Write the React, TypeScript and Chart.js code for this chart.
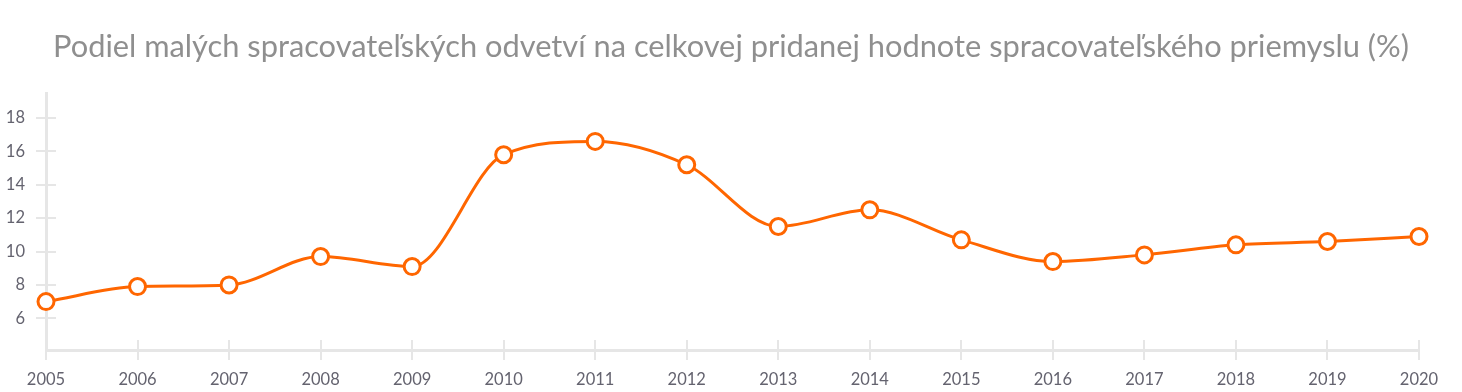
import React, { useEffect, useRef } from "react";
import { Chart, registerables } from "chart.js";

Chart.register(...registerables);

const TITLE = "Podiel malých spracovateľských odvetví na celkovej pridanej hodnote spracovateľského priemyslu (%)";
const YEARS = ["2005", "2006", "2007", "2008", "2009", "2010", "2011", "2012", "2013", "2014", "2015", "2016", "2017", "2018", "2019", "2020"];
const SHARE = [7.0, 7.9, 8.0, 9.7, 9.1, 15.8, 16.6, 15.2, 11.5, 12.5, 10.7, 9.4, 9.8, 10.4, 10.6, 10.9];
const Y_TICKS = [6, 8, 10, 12, 14, 16, 18];

const AXIS_COLOR = "#e6e6e6";
const LINE_COLOR = "#ff6600";
const TICK_TEXT = "#64636f";

const innerTicks = {
  id: "innerTicks",
  beforeDatasetsDraw(chart: any) {
    const ctx = chart.ctx;
    const x = chart.scales.x;
    const y = chart.scales.y;
    ctx.save();
    ctx.strokeStyle = AXIS_COLOR;
    ctx.lineWidth = 2;
    ctx.beginPath();
    for (let i = 0; i < YEARS.length; i++) {
      const px = Math.round(x.getPixelForValue(i));
      ctx.moveTo(px, y.bottom);
      ctx.lineTo(px, y.bottom - 10);
    }
    for (const v of Y_TICKS) {
      const py = Math.round(y.getPixelForValue(v));
      ctx.moveTo(x.left, py);
      ctx.lineTo(x.left + 10, py);
    }
    ctx.stroke();
    ctx.restore();
  },
};

const titlePlugin = {
  id: "centerTitle",
  afterDraw(chart: any) {
    const ctx = chart.ctx;
    ctx.save();
    ctx.fillStyle = "#8f8f8f";
    ctx.font = "normal 30.8px Lato";
    ctx.textAlign = "center";
    ctx.textBaseline = "alphabetic";
    ctx.fillText(TITLE, chart.width / 2, 57);
    ctx.restore();
  },
};

export default function App() {
  const ref = useRef<HTMLCanvasElement>(null);
  useEffect(() => {
    document.body.style.margin = "0";
    const chart = new Chart(ref.current!, {
      type: "line",
      data: {
        labels: YEARS,
        datasets: [
          {
            data: SHARE,
            borderColor: LINE_COLOR,
            borderWidth: 3,
            cubicInterpolationMode: "monotone",
            pointRadius: 8,
            pointBorderWidth: 3,
            pointBackgroundColor: "#ffffff",
            pointBorderColor: LINE_COLOR,
            fill: false,
            clip: 12,
          },
        ],
      },
      options: {
        animation: false,
        responsive: true,
        maintainAspectRatio: false,
        layout: { padding: { left: 0, right: 43, top: 93, bottom: 0 } },
        plugins: {
          legend: { display: false },
          tooltip: { enabled: false },
          title: { display: false },
        },
        scales: {
          x: {
            offset: false,
            grid: { display: true, drawOnChartArea: false, drawTicks: true, tickLength: 10, color: AXIS_COLOR, lineWidth: 2 },
            border: { display: true, color: AXIS_COLOR, width: 3 },
            ticks: { color: TICK_TEXT, font: { family: "Lato", size: 16.5 }, padding: 10, maxRotation: 0, autoSkip: false },
            afterFit(s: any) { s.height = 42; },
          },
          y: {
            min: 4.1,
            max: 19.5,
            grid: { display: true, drawOnChartArea: false, drawTicks: true, tickLength: 10, color: AXIS_COLOR, lineWidth: 2 },
            border: { display: true, color: AXIS_COLOR, width: 3 },
            ticks: { color: TICK_TEXT, font: { family: "Lato", size: 16.5 }, padding: 11 },
            afterBuildTicks(s: any) { s.ticks = Y_TICKS.map((v) => ({ value: v })); },
            afterFit(s: any) { s.width = 46; },
          },
        },
      },
      plugins: [innerTicks, titlePlugin],
    });
    return () => chart.destroy();
  }, []);
  return (
    <div style={{ width: "1462px", height: "392px", position: "relative" }}>
      <canvas ref={ref} />
    </div>
  );
}
